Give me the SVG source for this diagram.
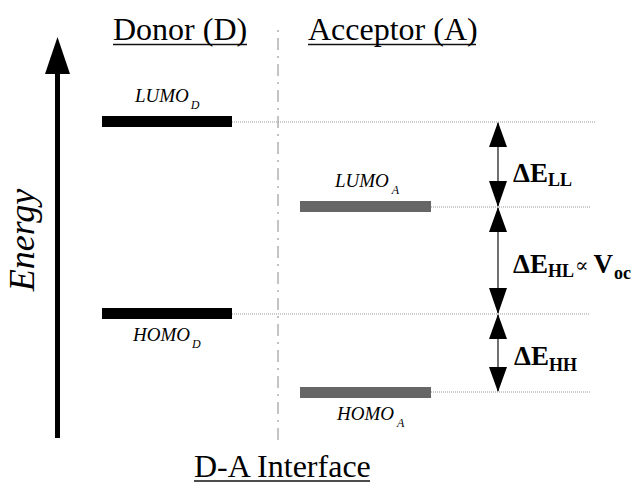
<svg xmlns="http://www.w3.org/2000/svg" width="644" height="484" viewBox="0 0 644 484">
<rect width="644" height="484" fill="#fff"/>
<g id="energy-axis">
<rect x="55" y="72" width="5" height="366" fill="#000"/>
<path d="M57.5,37 L70,74 L45,74 Z" fill="#000"/>
</g>
<line stroke="#111" stroke-width="1.5" x1="113" y1="44.5" x2="247" y2="44.5"/>
<line stroke="#111" stroke-width="1.5" x1="308" y1="44.5" x2="476" y2="44.5"/>
<line x1="278" y1="30" x2="278" y2="440" stroke="#888" stroke-width="1" stroke-dasharray="2 6 12 6"/>
<line stroke="#111" stroke-width="1.5" x1="194" y1="481" x2="370" y2="481"/>
<g id="connectors">
<g stroke="#999" stroke-width="1" stroke-dasharray="1 1" fill="none">
<line x1="232" y1="122" x2="595" y2="122"/>
<line x1="431" y1="207" x2="590" y2="207"/>
<line x1="232" y1="314" x2="590" y2="314"/>
<line x1="431" y1="392" x2="590" y2="392"/>
</g>
<g stroke="#111" stroke-width="1.2" fill="none">
<line x1="498" y1="123" x2="498" y2="206"/>
<line x1="498" y1="208" x2="498" y2="313"/>
<line x1="498" y1="315" x2="498" y2="391"/>
</g>
<g fill="#000">
<path d="M498,122 L489,147 L507,147 Z M498,207 L489,181 L507,181 Z"/>
<path d="M498,207 L489,232 L507,232 Z M498,314 L489,288 L507,288 Z"/>
<path d="M498,314 L489,339 L507,339 Z M498,392 L489,367 L507,367 Z"/>
</g>
</g>
<g id="lumo-d"><rect x="102" y="116" width="130" height="11" fill="#000"/></g>
<g id="homo-d"><rect x="102" y="308" width="130" height="11" fill="#000"/></g>
<g id="lumo-a"><rect x="300" y="201" width="131" height="11" fill="#666"/></g>
<g id="homo-a"><rect x="300" y="387" width="131" height="11" fill="#666"/></g>
<text font-family="Liberation Serif" font-style="italic" font-size="36" transform="translate(34,240) rotate(-90)" text-anchor="middle">Energy</text>
<text font-family="Liberation Serif" font-size="32" x="113" y="40">Donor (D)</text>
<text font-family="Liberation Serif" font-size="32" x="308" y="40">Acceptor (A)</text>
<text font-family="Liberation Serif" font-size="32" x="194" y="477">D-A Interface</text>
<text font-family="Liberation Serif" font-style="italic" font-size="19" x="135" y="102">LUMO<tspan font-size="12" dx="2" dy="7">D</tspan></text>
<text font-family="Liberation Serif" font-style="italic" font-size="19" x="133" y="341">HOMO<tspan font-size="12" dx="2" dy="7">D</tspan></text>
<text font-family="Liberation Serif" font-style="italic" font-size="19" x="335" y="187">LUMO<tspan font-size="12" dx="3" dy="7">A</tspan></text>
<text font-family="Liberation Serif" font-style="italic" font-size="19" x="337" y="420">HOMO<tspan font-size="12" dx="3" dy="7">A</tspan></text>
<text font-family="Liberation Serif" font-weight="bold" font-size="27" x="513" y="182">ΔE<tspan font-size="18" dy="4">LL</tspan></text>
<text font-family="Liberation Serif" font-weight="bold" font-size="27" x="513" y="273">ΔE<tspan font-size="18" dy="4">HL</tspan><tspan dy="-5" dx="1" font-weight="normal" font-size="20" font-family="DejaVu Serif">∝</tspan><tspan dx="5" dy="1">V</tspan><tspan font-size="18" dy="6" dx="1">oc</tspan></text>
<text font-family="Liberation Serif" font-weight="bold" font-size="27" x="514" y="365">ΔE<tspan font-size="18" dy="6">HH</tspan></text>
</svg>
